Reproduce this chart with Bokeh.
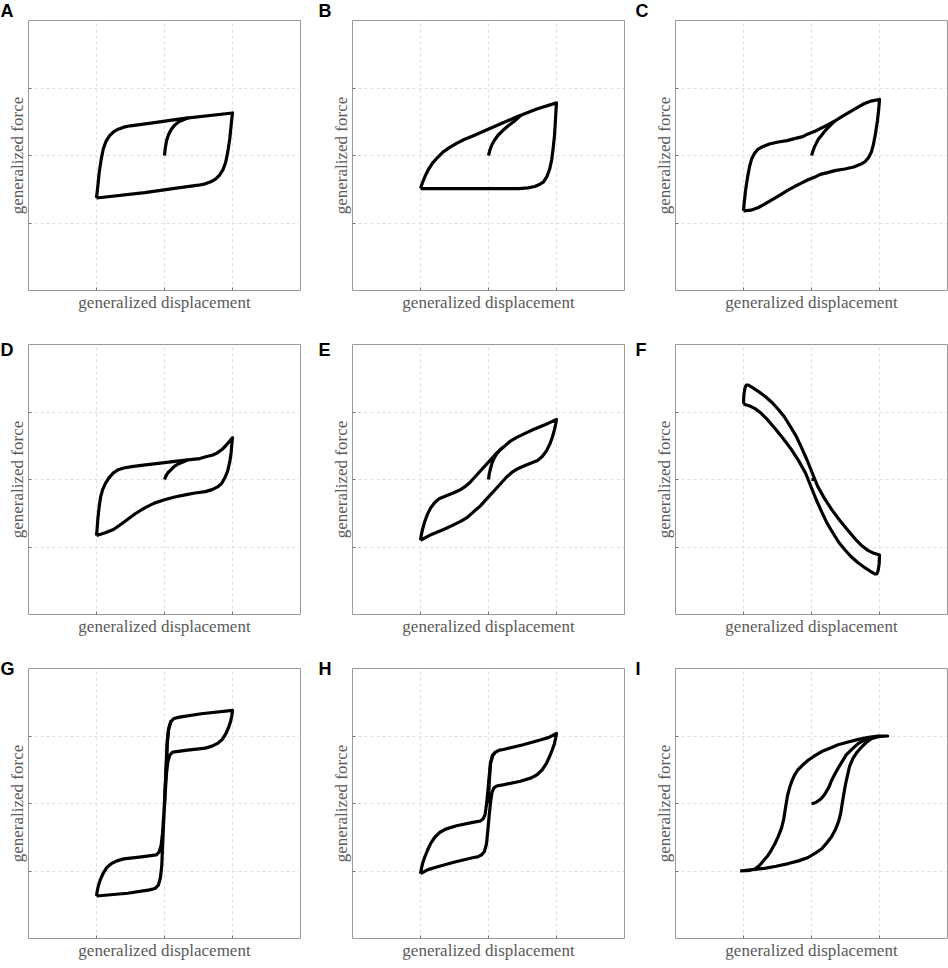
from bokeh.plotting import figure
from bokeh.layouts import gridplot
from bokeh.models import FixedTicker, Range1d, Label
from bokeh.embed import file_html
from bokeh.resources import INLINE

# ---------------- data ----------------
A_loop_x = [-1.0, -0.98, -0.96, -0.93, -0.90, -0.86, -0.81, -0.75, -0.68, -0.60, -0.50, -0.20, 0.29, 1.0,
            0.98, 0.96, 0.93, 0.90, 0.86, 0.81, 0.75, 0.68, 0.60, 0.50, 0.20, -0.29, -1.0]
A_loop_y = [-0.63, -0.45, -0.25, -0.05, 0.10, 0.21, 0.29, 0.35, 0.39, 0.42, 0.44, 0.48, 0.55, 0.63,
            0.45, 0.25, 0.05, -0.10, -0.21, -0.29, -0.35, -0.39, -0.42, -0.44, -0.48, -0.55, -0.63]
A_init_x = [0.0, 0.01, 0.03, 0.06, 0.10, 0.15, 0.21, 0.28, 0.35]
A_init_y = [0.0, 0.10, 0.22, 0.31, 0.39, 0.45, 0.50, 0.53, 0.56]

B_loop_x = [-1.0, -0.97, -0.93, -0.88, -0.82, -0.75, -0.67, -0.57, -0.47, -0.35, -0.23, 0.02, 0.41, 0.71, 1.0,
            0.99, 0.98, 0.97, 0.95, 0.93, 0.90, 0.86, 0.81, 0.75, 0.68, 0.58, 0.45, -1.0]
B_loop_y = [-0.49, -0.40, -0.30, -0.20, -0.11, -0.03, 0.05, 0.12, 0.18, 0.24, 0.29, 0.40, 0.57, 0.69, 0.78,
            0.62, 0.45, 0.29, 0.10, -0.06, -0.20, -0.31, -0.39, -0.43, -0.46, -0.48, -0.49, -0.49]
B_init_x = [0.0, 0.02, 0.05, 0.09, 0.14, 0.21, 0.29, 0.37, 0.48]
B_init_y = [0.0, 0.08, 0.16, 0.23, 0.30, 0.37, 0.44, 0.50, 0.60]

C_loop_x = [-1.0, -0.99, -0.97, -0.94, -0.91, -0.88, -0.84, -0.79, -0.72, -0.62, -0.49, -0.36, -0.25, -0.13,
            -0.05, 0.05, 0.15, 0.25, 0.34, 0.47, 0.59, 0.69, 0.78, 0.89, 1.0,
            0.99, 0.97, 0.94, 0.91, 0.88, 0.84, 0.79, 0.72, 0.62, 0.49, 0.36, 0.25, 0.13,
            0.05, -0.05, -0.15, -0.25, -0.34, -0.47, -0.59, -0.69, -0.78, -0.89, -1.0]
C_loop_y = [-0.82, -0.70, -0.52, -0.32, -0.16, -0.05, 0.03, 0.09, 0.13, 0.17, 0.20, 0.22, 0.25, 0.28,
            0.32, 0.36, 0.41, 0.46, 0.51, 0.59, 0.66, 0.72, 0.77, 0.81, 0.83,
            0.70, 0.52, 0.32, 0.16, 0.05, -0.03, -0.09, -0.13, -0.17, -0.20, -0.22, -0.25, -0.28,
            -0.32, -0.36, -0.41, -0.46, -0.51, -0.59, -0.66, -0.72, -0.77, -0.81, -0.82]
C_init_x = [0.0, 0.02, 0.04, 0.07, 0.10, 0.14, 0.18, 0.23, 0.28, 0.34]
C_init_y = [0.0, 0.06, 0.12, 0.18, 0.24, 0.29, 0.34, 0.40, 0.45, 0.51]

D_loop_x = [-1.0, -0.99, -0.98, -0.96, -0.94, -0.91, -0.87, -0.82, -0.76, -0.69, -0.60, -0.48, -0.34, 0.0,
            0.34, 0.52, 0.62, 0.70, 0.77, 0.84, 0.90, 0.96, 1.0,
            0.99, 0.98, 0.96, 0.93, 0.89, 0.84, 0.78, 0.70, 0.60, 0.45, 0.34, 0.15, 0.0,
            -0.15, -0.29, -0.42, -0.54, -0.65, -0.75, -0.87, -1.0]
D_loop_y = [-0.83, -0.72, -0.58, -0.40, -0.26, -0.15, -0.06, 0.02, 0.09, 0.14, 0.17, 0.19, 0.21, 0.25,
            0.29, 0.31, 0.34, 0.36, 0.39, 0.44, 0.50, 0.57, 0.62,
            0.52, 0.40, 0.26, 0.13, 0.03, -0.06, -0.11, -0.15, -0.18, -0.20, -0.22, -0.26, -0.30,
            -0.35, -0.42, -0.50, -0.59, -0.67, -0.74, -0.79, -0.83]
D_init_x = [0.0, 0.02, 0.05, 0.09, 0.14, 0.20, 0.27, 0.34]
D_init_y = [0.0, 0.05, 0.10, 0.14, 0.19, 0.23, 0.26, 0.29]

E_loop_x = [-1.0, -0.99, -0.97, -0.94, -0.90, -0.85, -0.79, -0.72, -0.62, -0.52, -0.43, -0.35, -0.27, -0.18,
            -0.08, 0.02, 0.12, 0.22, 0.31, 0.41, 0.53, 0.66, 0.83, 1.0,
            0.99, 0.97, 0.94, 0.90, 0.85, 0.79, 0.72, 0.62, 0.52, 0.43, 0.35, 0.27, 0.18,
            0.08, -0.02, -0.12, -0.22, -0.31, -0.41, -0.53, -0.66, -0.83, -1.0]
E_loop_y = [-0.90, -0.83, -0.74, -0.63, -0.52, -0.42, -0.34, -0.28, -0.24, -0.20, -0.16, -0.11, -0.04, 0.06,
            0.17, 0.28, 0.39, 0.48, 0.56, 0.62, 0.68, 0.74, 0.81, 0.89,
            0.83, 0.74, 0.63, 0.52, 0.42, 0.34, 0.28, 0.24, 0.20, 0.16, 0.11, 0.04, -0.06,
            -0.17, -0.28, -0.39, -0.48, -0.56, -0.62, -0.68, -0.74, -0.81, -0.90]
E_init_x = [0.0, 0.01, 0.03, 0.05, 0.08, 0.12, 0.17, 0.22]
E_init_y = [0.0, 0.08, 0.16, 0.24, 0.31, 0.38, 0.44, 0.48]

F_loop_x = [-1.0, -0.995, -0.98, -0.96, -0.93, -0.88, -0.79, -0.68, -0.58, -0.49, -0.40, -0.32, -0.23, -0.15,
            -0.07, 0.01, 0.09, 0.19, 0.30, 0.42, 0.54, 0.65, 0.75, 0.83, 0.91, 1.0,
            0.995, 0.98, 0.96, 0.93, 0.88, 0.79, 0.68, 0.58, 0.49, 0.40, 0.32, 0.23, 0.15,
            0.07, -0.01, -0.09, -0.19, -0.30, -0.42, -0.54, -0.65, -0.75, -0.83, -0.91, -1.0]
F_loop_y = [1.12, 1.25, 1.35, 1.40, 1.40, 1.37, 1.31, 1.23, 1.14, 1.04, 0.93, 0.80, 0.65, 0.48,
            0.30, 0.10, -0.10, -0.28, -0.45, -0.61, -0.76, -0.89, -0.99, -1.05, -1.09, -1.12,
            -1.25, -1.35, -1.40, -1.40, -1.37, -1.31, -1.23, -1.14, -1.04, -0.93, -0.80, -0.65, -0.48,
            -0.30, -0.10, 0.10, 0.28, 0.45, 0.61, 0.76, 0.89, 0.99, 1.05, 1.09, 1.12]
F_init_x = [0.0, 0.05]
F_init_y = [0.0, 0.0]

G_loop_x = [-1.0, -0.99, -0.97, -0.94, -0.90, -0.85, -0.78, -0.70, -0.60, -0.34, -0.12, -0.08, -0.05, -0.03,
            -0.01, 0.01, 0.03, 0.04, 0.06, 0.09, 0.14, 0.22, 0.54, 1.0,
            0.99, 0.97, 0.94, 0.90, 0.85, 0.78, 0.70, 0.60, 0.34, 0.12, 0.08, 0.05, 0.03,
            0.01, -0.01, -0.03, -0.04, -0.06, -0.09, -0.14, -0.22, -0.54, -1.0]
G_loop_y = [-1.37, -1.30, -1.21, -1.12, -1.03, -0.95, -0.89, -0.85, -0.82, -0.79, -0.76, -0.72, -0.62, -0.45,
            -0.15, 0.23, 0.67, 0.92, 1.10, 1.21, 1.26, 1.28, 1.33, 1.38,
            1.30, 1.21, 1.12, 1.03, 0.95, 0.89, 0.85, 0.82, 0.79, 0.76, 0.72, 0.62, 0.45,
            0.15, -0.23, -0.67, -0.92, -1.10, -1.21, -1.26, -1.28, -1.33, -1.37]
G_init_x = [0.0, 0.02, 0.04, 0.06, 0.10]
G_init_y = [0.0, 0.45, 0.88, 1.10, 1.23]

H_loop_x = [-1.0, -0.99, -0.97, -0.94, -0.90, -0.85, -0.79, -0.72, -0.63, -0.47, -0.23, -0.12, -0.08, -0.05,
            -0.03, -0.01, 0.01, 0.03, 0.06, 0.10, 0.16, 0.22, 0.51, 0.76, 0.89, 1.0,
            0.99, 0.97, 0.94, 0.90, 0.85, 0.79, 0.72, 0.63, 0.47, 0.23, 0.12, 0.08, 0.05,
            0.03, 0.01, -0.01, -0.03, -0.06, -0.10, -0.16, -0.22, -0.51, -0.76, -0.89, -1.0]
H_loop_y = [-1.04, -0.98, -0.89, -0.80, -0.70, -0.59, -0.50, -0.43, -0.38, -0.33, -0.28, -0.26, -0.23, -0.16,
            -0.02, 0.18, 0.40, 0.60, 0.71, 0.76, 0.79, 0.80, 0.87, 0.94, 0.98, 1.04,
            0.98, 0.89, 0.80, 0.70, 0.59, 0.50, 0.43, 0.38, 0.33, 0.28, 0.26, 0.23, 0.16,
            0.02, -0.18, -0.40, -0.60, -0.71, -0.76, -0.79, -0.80, -0.87, -0.94, -0.98, -1.04]
H_init_x = [0.0, 0.01, 0.03, 0.06, 0.10]
H_init_y = [0.0, 0.30, 0.60, 0.71, 0.76]

I_loop_x = [-1.05, -0.90, -0.83, -0.78, -0.74, -0.69, -0.64, -0.59, -0.54, -0.49, -0.44, -0.41, -0.39, -0.37,
            -0.35, -0.32, -0.29, -0.25, -0.20, -0.13, -0.05, 0.05, 0.15, 0.27, 0.39, 0.54, 0.69, 0.84, 0.98, 1.12,
            0.98, 0.88, 0.80, 0.74, 0.67, 0.61, 0.56, 0.53, 0.51, 0.49, 0.47, 0.45, 0.43, 0.40, 0.35,
            0.29, 0.22, 0.15, 0.05, -0.05, -0.19, -0.34, -0.52, -0.69, -0.87, -1.05]
I_loop_y = [-1.0, -0.99, -0.97, -0.93, -0.89, -0.83, -0.77, -0.69, -0.60, -0.49, -0.36, -0.24, -0.11, 0.01,
            0.13, 0.24, 0.33, 0.42, 0.50, 0.57, 0.64, 0.71, 0.77, 0.82, 0.87, 0.91, 0.95, 0.98, 1.0, 1.0,
            0.99, 0.96, 0.90, 0.84, 0.76, 0.67, 0.55, 0.42, 0.33, 0.23, 0.11, -0.01, -0.14, -0.26, -0.39,
            -0.50, -0.59, -0.67, -0.74, -0.80, -0.85, -0.89, -0.93, -0.96, -0.98, -1.0]
I_init_x = [0.0, 0.04, 0.07, 0.11, 0.15, 0.19, 0.22, 0.26, 0.29, 0.34, 0.39, 0.45, 0.51, 0.60, 0.69, 0.78, 0.88, 1.0]
I_init_y = [0.0, 0.005, 0.02, 0.045, 0.08, 0.13, 0.18, 0.25, 0.33, 0.43, 0.52, 0.62, 0.72, 0.81, 0.89, 0.94, 0.97, 1.0]

panel_letters = ["A", "B", "C", "D", "E", "F", "G", "H", "I"]
grid_ticks = [-1, 0, 1]
x_label = "generalized displacement"
y_label = "generalized force"

panels = [
    (A_loop_x, A_loop_y, A_init_x, A_init_y),
    (B_loop_x, B_loop_y, B_init_x, B_init_y),
    (C_loop_x, C_loop_y, C_init_x, C_init_y),
    (D_loop_x, D_loop_y, D_init_x, D_init_y),
    (E_loop_x, E_loop_y, E_init_x, E_init_y),
    (F_loop_x, F_loop_y, F_init_x, F_init_y),
    (G_loop_x, G_loop_y, G_init_x, G_init_y),
    (H_loop_x, H_loop_y, H_init_x, H_init_y),
    (I_loop_x, I_loop_y, I_init_x, I_init_y),
]

# layout (pixels)
LEFTS = [28, 34, 40]
RIGHTS = [18, 11, 1]
FRAME_W = 272
HEIGHTS = [324, 324, 320]
TOP = 16
BOTTOMS = [34, 34, 30]
LETTER_DY = [10, -5, 0]   # letter position relative to the top panel

figs = []
for i, (lx, ly, ix, iy) in enumerate(panels):
    r, c = divmod(i, 3)
    p = figure(width=LEFTS[c] + FRAME_W + RIGHTS[c], height=HEIGHTS[r],
               x_range=Range1d(-2, 2), y_range=Range1d(-2, 2),
               output_backend="svg", toolbar_location=None,
               min_border_left=LEFTS[c], min_border_right=RIGHTS[c],
               min_border_top=TOP, min_border_bottom=BOTTOMS[r])
    p.outline_line_color = "#9a9a9a"
    p.outline_line_width = 1
    p.background_fill_color = "white"
    p.border_fill_color = "white"

    for ax in (p.xaxis[0], p.yaxis[0]):
        ax.ticker = FixedTicker(ticks=grid_ticks)
        ax.major_label_overrides = {t: "" for t in grid_ticks}
        ax.major_label_text_color = None
        ax.major_label_text_font_size = "1px"
        ax.major_label_standoff = 0
        ax.major_tick_in = 3
        ax.major_tick_out = 0
        ax.minor_tick_line_color = None
        ax.axis_line_color = None
        ax.major_tick_line_color = "#707070"
        ax.axis_label_text_font = "Liberation Serif"
        ax.axis_label_text_font_size = "17px"
        ax.axis_label_text_font_style = "normal"
        ax.axis_label_text_color = "#5a5a5a"
        ax.axis_label_standoff = 2
    p.xaxis.axis_label = x_label
    p.yaxis.axis_label = y_label

    for g in (p.xgrid[0], p.ygrid[0]):
        g.grid_line_color = "#e0e0e0"
        g.grid_line_dash = "3 3"
        g.grid_line_width = 1

    p.line(lx, ly, line_color="black", line_width=3.2, line_join="round")
    p.line(ix, iy, line_color="black", line_width=3.2, line_join="round")

    p.add_layout(Label(x=-LEFTS[c], y=LETTER_DY[r], x_units="screen", y_units="screen",
                       text=panel_letters[i], text_font="Liberation Sans",
                       text_font_style="bold", text_font_size="18px",
                       text_baseline="alphabetic", text_align="left", text_color="black"),
                 "above")
    figs.append(p)

grid = gridplot(figs, ncols=3, toolbar_location=None)
open("out.html", "w").write(file_html(grid, INLINE))
